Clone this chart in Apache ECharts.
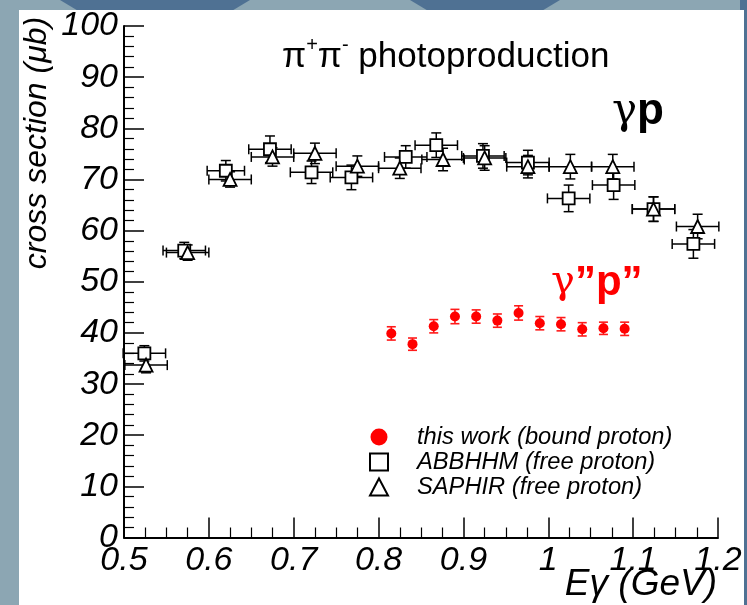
<!DOCTYPE html>
<html><head><meta charset="utf-8">
<script src="https://cdn.jsdelivr.net/npm/echarts@6/dist/echarts.min.js"></script>
<style>html,body{margin:0;padding:0;width:747px;height:605px;overflow:hidden;background:#55768f}
#c{width:747px;height:605px}</style></head><body><div id="c"></div>
<script>
// ---- data ----
const xTicks = ['0.5','0.6','0.7','0.8','0.9','1','1.1','1.2'];
const yTicks = [0,10,20,30,40,50,60,70,80,90,100];

const redE   = [0.815,0.840,0.865,0.890,0.915,0.940,0.965,0.990,1.015,1.040,1.065,1.090];
const redV   = [39.9, 37.8, 41.3, 43.2, 43.2, 42.4, 43.9, 41.9, 41.7, 40.7, 40.9, 40.8];
const redEy  = [1.3, 1.2, 1.3, 1.4, 1.3, 1.3, 1.4, 1.3, 1.3, 1.3, 1.2, 1.3];

const abbE   = [0.524,0.571,0.620,0.672,0.721,0.768,0.832,0.868,0.923,0.976,1.024,1.077,1.124,1.171];
const abbV   = [36.0, 56.1, 71.7, 75.9, 71.4, 70.4, 74.4, 76.7, 74.6, 73.3, 66.3, 68.9, 64.2, 57.4];
const abbEx  = [0.025,0.025,0.022,0.025,0.025,0.025,0.025,0.025,0.025,0.025,0.025,0.025,0.025,0.025];
const abbEy  = [1.5, 1.6, 2.0, 2.6, 2.2, 2.4, 2.2, 2.4, 2.4, 2.4, 2.6, 2.8, 2.4, 2.8];

const sapE   = [0.526,0.575,0.625,0.675,0.725,0.775,0.825,0.876,0.925,0.976,1.026,1.076,1.124,1.176];
const sapV   = [33.7, 55.7, 70.0, 74.4, 75.1, 72.6, 72.2, 73.9, 74.2, 72.5, 72.5, 72.5, 64.2, 60.8];
const sapEx  = [0.025,0.025,0.025,0.025,0.025,0.025,0.025,0.025,0.025,0.025,0.025,0.025,0.025,0.025];
const sapEy  = [1.5, 1.5, 1.5, 1.8, 2.0, 2.0, 2.0, 2.2, 2.4, 2.2, 2.4, 2.4, 2.4, 2.4];

const legendNames = ['this work (bound proton)','ABBHHM (free proton)','SAPHIR (free proton)'];

// ---- build ----
function errData(E,V,Ex,Ey){ return E.map((e,i)=>[e,V[i],Ex?Ex[i]:0,Ey[i]]); }
function makeErr(color, lw, cap){
  return function(params, api){
    const x=api.value(0), y=api.value(1), ex=api.value(2), ey=api.value(3);
    const ch=[]; const st={stroke:color,lineWidth:lw};
    if(ex>0){
      const l=api.coord([x-ex,y]), r=api.coord([x+ex,y]);
      ch.push({type:'line',shape:{x1:l[0],y1:l[1],x2:r[0],y2:r[1]},style:st});
      ch.push({type:'line',shape:{x1:l[0],y1:l[1]-cap,x2:l[0],y2:l[1]+cap},style:st});
      ch.push({type:'line',shape:{x1:r[0],y1:r[1]-cap,x2:r[0],y2:r[1]+cap},style:st});
    }
    if(ey>0){
      const t=api.coord([x,y+ey]), b=api.coord([x,y-ey]);
      ch.push({type:'line',shape:{x1:t[0],y1:t[1],x2:b[0],y2:b[1]},style:st});
      ch.push({type:'line',shape:{x1:t[0]-cap,y1:t[1],x2:t[0]+cap,y2:t[1]},style:st});
      ch.push({type:'line',shape:{x1:b[0]-cap,y1:b[1],x2:b[0]+cap,y2:b[1]},style:st});
    }
    return {type:'group',children:ch};
  };
}
const zip=(a,b)=>a.map((v,i)=>[v,b[i]]);
const lblRich = {i:{fontFamily:'Liberation Sans', fontStyle:'italic', fontSize:34, color:'#000'}};

const chart = echarts.init(document.getElementById('c'), null, {renderer:'canvas'});
chart.setOption({
  backgroundColor:'#8ca6b3',
  animation:false,
  graphic:[
    {type:'polygon',shape:{points:[[60,0],[250,0],[230,12],[80,12]]},style:{fill:'#4f7193'},silent:true},
    {type:'polygon',shape:{points:[[410,0],[560,0],[540,12],[430,12]]},style:{fill:'#4f7193'},silent:true},
    {type:'rect',shape:{x:740,y:0,width:7,height:605},style:{fill:'#4f7193'},silent:true},
    {type:'rect',shape:{x:19,y:10,width:725,height:595},style:{fill:'#ffffff'},silent:true},
    {type:'text',left:612,top:90,style:{text:'{g|γ}{p|p}',rich:{g:{fontFamily:'DejaVu Serif',fontSize:42,fill:'#000'},p:{fontFamily:'Liberation Sans',fontWeight:'bold',fontSize:44,fill:'#000'}}},silent:true},
    {type:'text',left:551,top:262,style:{text:'{g|γ}{p|”p”}',rich:{g:{fontFamily:'DejaVu Serif',fontSize:40,fill:'#ff0000'},p:{fontFamily:'Liberation Sans',fontWeight:'bold',fontSize:42,fill:'#ff0000'}}},silent:true},
    {type:'text',x:37,y:143,rotation:Math.PI/2,style:{text:'cross section (μb)',fontFamily:'Liberation Sans',fontStyle:'italic',fontSize:32,fill:'#000',align:'center',verticalAlign:'middle'},silent:true},
    {type:'text',x:717,y:585,style:{text:'Eγ (GeV)',fontFamily:'Liberation Sans',fontStyle:'italic',fontSize:37,fill:'#000',align:'right',verticalAlign:'middle'},silent:true}
  ],
  title:{
    left:277, top:30,
    text:'{a|π}{s|+}{a|π}{s|-}{a| photoproduction}',
    textStyle:{rich:{
      a:{fontFamily:'Liberation Sans',fontWeight:'normal',fontSize:35,color:'#000',lineHeight:40,verticalAlign:'bottom'},
      s:{fontFamily:'Liberation Sans',fontWeight:'normal',fontSize:20,color:'#000',lineHeight:40,verticalAlign:'top'}
    }}
  },
  legend:{
    orient:'vertical', left:369, top:425, padding:0, itemGap:1,
    itemWidth:18, itemHeight:17,
    textStyle:{fontFamily:'Liberation Sans',fontStyle:'italic',fontSize:23.7,lineHeight:20,color:'#000',padding:[0,0,0,24]},
    data:[{name:legendNames[0],icon:'circle'},{name:legendNames[1],icon:'rect'},{name:legendNames[2],icon:'triangle'}]
  },
  grid:{left:124,right:29,top:26,bottom:67.5,show:true,borderColor:'#000',borderWidth:2,backgroundColor:'transparent'},
  xAxis:{
    type:'value',min:0.5,max:1.2,interval:0.1,
    axisLine:{show:true,lineStyle:{color:'#000',width:2}},
    axisTick:{inside:true,length:20,lineStyle:{color:'#000',width:1.5}},
    minorTick:{show:true,splitNumber:4,length:10,lineStyle:{color:'#000',width:1.2}},
    splitLine:{show:false},
    axisLabel:{margin:6,rich:lblRich,formatter:(v)=>{const i=Math.round((v-0.5)*10);return xTicks[i]!==undefined?'{i|'+xTicks[i]+'}':'';}}
  },
  yAxis:{
    type:'value',min:0,max:100,interval:10,
    axisLine:{show:true,lineStyle:{color:'#000',width:2}},
    axisTick:{inside:true,length:20,lineStyle:{color:'#000',width:1.5}},
    minorTick:{show:true,splitNumber:5,length:10,lineStyle:{color:'#000',width:1.2}},
    splitLine:{show:false},
    axisLabel:{margin:6,rich:lblRich,formatter:(v)=>'{i|'+String(yTicks[Math.round(v/10)])+'}'}
  },
  series:[
    {type:'custom',name:'errA',renderItem:makeErr('#000',1.5,5),data:errData(abbE,abbV,abbEx,abbEy),encode:{x:0,y:1},z:2,silent:true},
    {type:'custom',name:'errS',renderItem:makeErr('#000',1.5,5),data:errData(sapE,sapV,sapEx,sapEy),encode:{x:0,y:1},z:2,silent:true},
    {type:'custom',name:'errR',renderItem:makeErr('#ff1a1a',1.6,4.5),data:errData(redE,redV,null,redEy),encode:{x:0,y:1},z:2,silent:true},
    {type:'scatter',name:legendNames[0],symbol:'circle',symbolSize:10,itemStyle:{color:'#ff0000',opacity:1},data:zip(redE,redV),z:5},
    {type:'scatter',name:legendNames[1],symbol:'rect',symbolSize:12,itemStyle:{color:'#fff',borderColor:'#000',borderWidth:1.8,opacity:1},data:zip(abbE,abbV),z:5},
    {type:'scatter',name:legendNames[2],symbol:'triangle',symbolSize:13,itemStyle:{color:'#fff',borderColor:'#000',borderWidth:1.8,opacity:1},data:zip(sapE,sapV),z:5}
  ]
});
</script></body></html>
